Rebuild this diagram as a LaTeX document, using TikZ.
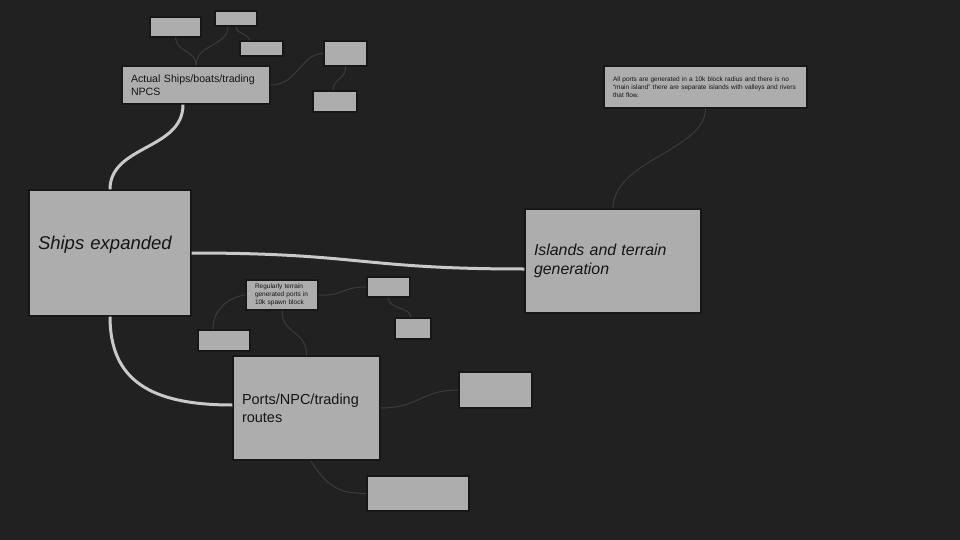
\documentclass[tikz,border=0pt]{standalone}
\usepackage{fontspec}
\setmainfont{Liberation Sans}
\definecolor{canvas}{HTML}{212121}
\definecolor{cardfill}{HTML}{ADADAD}
\definecolor{cardedge}{HTML}{171717}
\definecolor{mainlink}{HTML}{C9C9C9}
\definecolor{sidelink}{HTML}{3B3B3B}
\definecolor{cardtext}{HTML}{151515}
\tikzset{
  card/.style={draw=cardedge, fill=cardfill, line width=1.2pt, inner xsep=9pt, inner ysep=0pt, text=cardtext, align=left},
  stub/.style={card, inner sep=0pt},
  trunk/.style={draw=mainlink, line width=3pt},
  twig/.style={draw=sidelink, line width=1pt},
}

\begin{document}
\begin{tikzpicture}[x=1pt,y=-1pt]
                % Canvas
                \fill[canvas] (0,0) rectangle (960,540);
                \useasboundingbox (0,0) rectangle (960,540);

                % Main topics
                \node[card, minimum width=162pt, minimum height=126pt, text width=144pt, text depth=20pt, font=\itshape\fontsize{18.5}{22}\selectfont] (ships) at (110,253) {Ships expanded};
                \node[card, minimum width=148pt, minimum height=38pt, text width=130pt, font=\fontsize{10.6}{13.5}\selectfont] (actual) at (196,85) {Actual Ships/boats/trading\\NPCS};
                \node[card, minimum width=176pt, minimum height=104pt, text width=158pt, font=\itshape\fontsize{15.9}{18.5}\selectfont] (islands) at (613,261) {Islands and terrain\\generation};
                \node[card, minimum width=147pt, minimum height=104pt, text width=129pt, font=\fontsize{14.5}{18}\selectfont] (ports) at (306.5,408) {Ports/NPC/trading\\routes};

                % Notes with text
                \node[card, minimum width=203pt, minimum height=42pt, text width=185pt, font=\fontsize{6.5}{8.2}\selectfont] (allports) at (705.5,87) {All ports are generated in a 10k block radius and there is no\\``main island'' there are separate islands with valleys and rivers\\that flow.};
                \node[card, minimum width=72pt, minimum height=30pt, text width=54pt, font=\fontsize{6.5}{8.2}\selectfont] (regular) at (282,295) {Regularly terrain\\generated ports in\\10k spawn block};

                % Small notes
                \foreach \id/\cx/\cy/\w/\h in {tA/175.5/27/51/20, tB/236/18.5/42/15, tC/261.5/48.5/43/15, tD/345.5/53.5/43/25, tE/335/101.5/44/21, rA/388.5/287/43/20, rB/413/328.5/36/21, rC/224/340.5/52/21, pA/495.5/390/73/36, pB/418/493.5/102/35}
                    \node[stub, minimum width=\w pt, minimum height=\h pt] (\id) at (\cx,\cy) {};

                % Main branches
                \draw[trunk] (ships.north) .. controls (110,145) and (183,150) .. ([xshift=-13pt]actual.south);
                \draw[trunk] (ships.east) .. controls (360,253) and (360,269) .. ([yshift=-8pt]islands.west);
                \draw[trunk] (ships.south) .. controls (110,380) and (150,405) .. ([yshift=3pt]ports.west);

                % Side branches
                \draw[twig] (tA.south) .. controls (176,52) and (196,50) .. (actual.north);
                \draw[twig] ([xshift=-8pt]tB.south) .. controls (228,46) and (196,44) .. (actual.north);
                \draw[twig] (tB.south) .. controls (236,34) and (249,34) .. ([xshift=-12pt]tC.north);
                \draw[twig] (actual.east) .. controls (298,85) and (300,54) .. (tD.west);
                \draw[twig] (tD.south) .. controls (346,80) and (333,78) .. ([xshift=-2pt]tE.north);
                \draw[twig] (islands.north) .. controls (613,160) and (706,150) .. (allports.south);
                \draw[twig] (regular.east) .. controls (345,296) and (340,287) .. (rA.west);
                \draw[twig] (rA.south) .. controls (388,310) and (410,306) .. ([xshift=-2pt]rB.north);
                \draw[twig] (regular.west) .. controls (228,297) and (213,310) .. ([xshift=-11pt]rC.north);
                \draw[twig] (regular.south) .. controls (282,335) and (307,330) .. (ports.north);
                \draw[twig] (ports.east) .. controls (420,408) and (420,390) .. (pA.west);
                \draw[twig] ([xshift=4pt]ports.south) .. controls (330,492) and (345,493) .. (pB.west);
\end{tikzpicture}
\end{document}
